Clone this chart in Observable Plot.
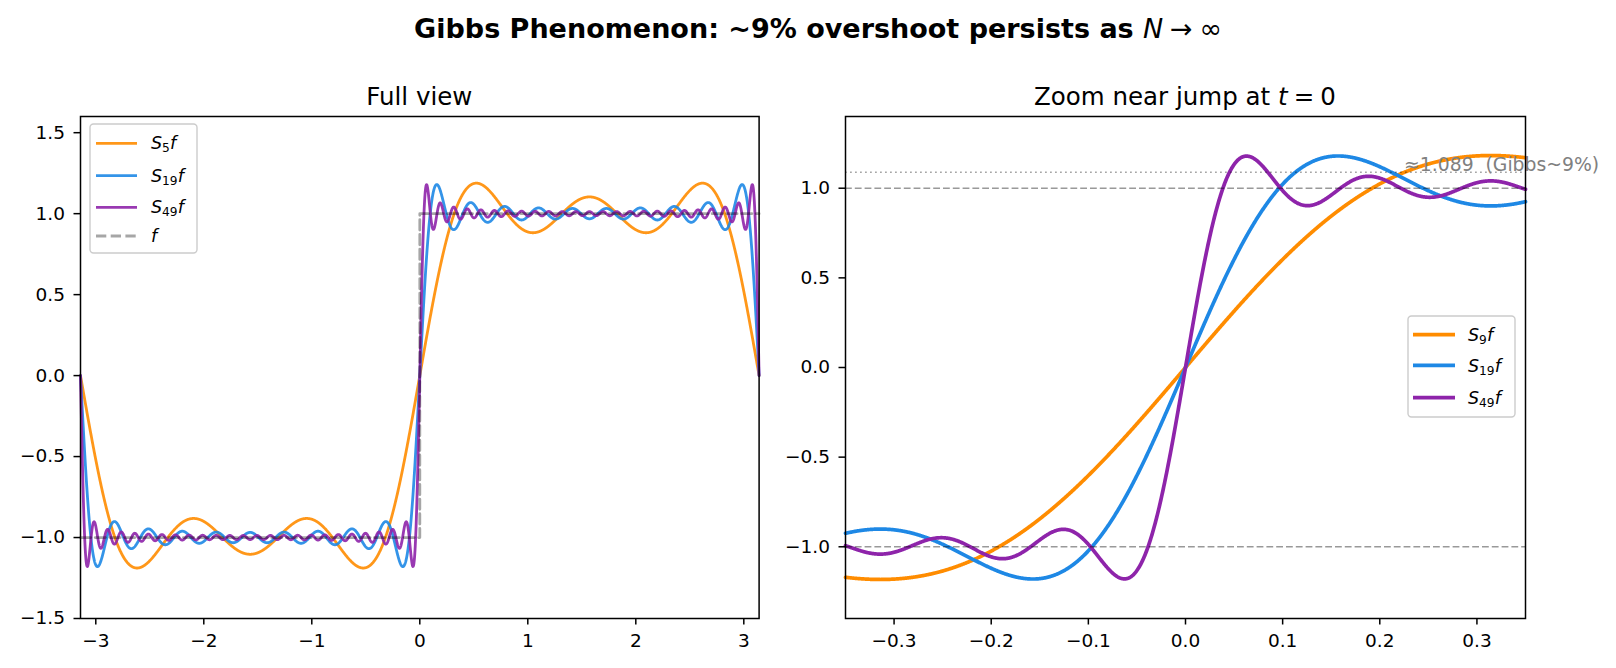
<!DOCTYPE html>
<html><head><meta charset="utf-8">
<script src="https://cdn.jsdelivr.net/npm/d3@7"></script>
<script src="https://cdn.jsdelivr.net/npm/@observablehq/plot@0.6"></script>
<style>
body{margin:0;background:#fff;}
#wrap{position:relative;width:1616px;height:668px;overflow:hidden;font-family:"DejaVu Sans",sans-serif;background:#fff;}
#wrap svg{position:absolute;top:0;}
</style></head><body><div id="wrap"></div>
<script>
// ---- data ----
const leftOrders = [5, 19, 49];          // harmonics in the full view
const rightOrders = [9, 19, 49];         // harmonics in the zoom
const seriesColors = ["#FF8C00", "#1E88E5", "#8E24AA"];
const leftXTicks = [-3, -2, -1, 0, 1, 2, 3];
const leftYTicks = [-1.5, -1, -0.5, 0, 0.5, 1, 1.5];
const rightXTicks = [-0.3, -0.2, -0.1, 0, 0.1, 0.2, 0.3];
const rightYTicks = [-1, -0.5, 0, 0.5, 1];
const stepT = [-Math.PI, 0, 0, Math.PI];  // square wave f
const stepV = [-1, -1, 1, 1];
const refLevels = [-1, 1];
const gibbsLevel = 1.089;
const gibbsLabel = "≈1.089\u00a0\u00a0(Gibbs~9%)";
const annotX = 0.225;

// Fourier partial sum of the square wave
function partialSum(N, t) {
  let s = 0;
  for (let k = 1; k <= N; k += 2) s += Math.sin(k * t) / k;
  return 4 / Math.PI * s;
}
const leftGrid = d3.range(0, 3001).map(i => -Math.PI + 2 * Math.PI * i / 3000);
const rightGrid = d3.range(0, 1401).map(i => -0.35 + 0.7 * i / 1400);
const stepData = stepT.map((t, i) => ({t, v: stepV[i]}));

const baseStyle = {fontFamily: "DejaVu Sans", fontSize: "18.5px", color: "black", background: "transparent", overflow: "visible"};
const axisOpts = {tickSize: 6.5, tickPadding: 9, label: null, strokeWidth: 1.5, fontSize: 18.5};

const wrap = document.getElementById("wrap");

// ---- left panel ----
const leftPlot = Plot.plot({
  width: 770, height: 668,
  marginLeft: 80, marginRight: 11.4, marginTop: 116, marginBottom: 50,
  x: {domain: [-Math.PI, Math.PI]},
  y: {domain: [-1.5, 1.6]},
  style: baseStyle,
  marks: [
    ...leftOrders.map((N, i) => Plot.line(leftGrid.map(t => ({t, v: partialSum(N, t)})),
      {x: "t", y: "v", stroke: seriesColors[i], strokeOpacity: 0.9, strokeWidth: 2.8})),
    Plot.line(stepData, {x: "t", y: "v", stroke: "black", strokeOpacity: 0.35, strokeWidth: 2.8, strokeDasharray: "10.3,4.4"}),
    Plot.axisX({...axisOpts, ticks: leftXTicks, tickFormat: d3.format("d")}),
    Plot.axisY({...axisOpts, ticks: leftYTicks, tickFormat: d3.format(".1f")}),
    Plot.frame({stroke: "black", strokeWidth: 1.5})
  ]
});
leftPlot.style.left = "0px";
wrap.appendChild(leftPlot);

// ---- right panel ----
const rightPlot = Plot.plot({
  width: 846, height: 668,
  marginLeft: 75, marginRight: 91, marginTop: 116, marginBottom: 50,
  x: {domain: [-0.35, 0.35]},
  y: {domain: [-1.4, 1.4]},
  style: baseStyle,
  marks: [
    ...rightOrders.map((N, i) => Plot.line(rightGrid.map(t => ({t, v: partialSum(N, t)})),
      {x: "t", y: "v", stroke: seriesColors[i], strokeWidth: 3.7})),
    Plot.ruleY(refLevels, {stroke: "black", strokeOpacity: 0.4, strokeWidth: 1.4, strokeDasharray: "6.8,3"}),
    Plot.ruleY([gibbsLevel], {stroke: "black", strokeOpacity: 0.35, strokeWidth: 1.4, strokeDasharray: "1.8,3.2"}),
    Plot.text([gibbsLevel], {x: () => annotX, y: d => d, text: () => gibbsLabel, textAnchor: "start", lineAnchor: "bottom", dy: -1.5, fill: "gray", fontSize: 18.8}),
    Plot.axisX({...axisOpts, ticks: rightXTicks, tickFormat: d3.format(".1f")}),
    Plot.axisY({...axisOpts, ticks: rightYTicks, tickFormat: d3.format(".1f")}),
    Plot.frame({stroke: "black", strokeWidth: 1.5})
  ]
});
rightPlot.style.left = "770px";
wrap.appendChild(rightPlot);

// ---- overlay: titles and legends ----
const ov = d3.select(wrap).append("svg").attr("width", 1616).attr("height", 668)
  .style("left", "0px").style("font-family", "DejaVu Sans").style("pointer-events", "none");

const title = ov.append("text").attr("x", 818).attr("y", 38).attr("text-anchor", "middle")
  .attr("font-size", 27).attr("font-weight", "bold").attr("fill", "black");
title.append("tspan").text("Gibbs Phenomenon: ~9% overshoot persists as ");
title.append("tspan").attr("font-style", "italic").attr("font-weight", "normal").text("N");
title.append("tspan").attr("font-weight", "normal").text("\u2005→\u2005∞");

ov.append("text").attr("x", 419.3).attr("y", 104.5).attr("text-anchor", "middle").attr("font-size", 24.5).text("Full view");
const st2 = ov.append("text").attr("x", 1185).attr("y", 104.5).attr("text-anchor", "middle").attr("font-size", 24.5);
st2.append("tspan").text("Zoom near jump at ");
st2.append("tspan").attr("font-style", "italic").text("t");
st2.append("tspan").text("\u2005=\u20050");

function legendLabel(g, x, y, sub) {
  const t = g.append("text").attr("x", x).attr("y", y).attr("font-size", 17.5).attr("fill", "black");
  if (sub === null) { t.append("tspan").attr("font-style", "italic").text("f"); return; }
  t.append("tspan").attr("font-style", "italic").text("S");
  t.append("tspan").attr("font-size", 12.2).attr("dy", 3).text(String(sub));
  t.append("tspan").attr("font-style", "italic").attr("dy", -3).text("f");
}

// left legend
const lg = ov.append("g");
lg.append("rect").attr("x", 90).attr("y", 124).attr("width", 107).attr("height", 129).attr("rx", 3.5)
  .attr("fill", "white").attr("fill-opacity", 0.8).attr("stroke", "#cccccc").attr("stroke-width", 1.4);
const leftRows = [143.3, 175.7, 207.3, 236];
leftOrders.forEach((N, i) => {
  lg.append("line").attr("x1", 96).attr("x2", 137).attr("y1", leftRows[i]).attr("y2", leftRows[i])
    .attr("stroke", seriesColors[i]).attr("stroke-opacity", 0.9).attr("stroke-width", 2.8);
  legendLabel(lg, 151, leftRows[i] + 6, N);
});
lg.append("line").attr("x1", 96).attr("x2", 137).attr("y1", leftRows[3]).attr("y2", leftRows[3])
  .attr("stroke", "black").attr("stroke-opacity", 0.35).attr("stroke-width", 2.8).attr("stroke-dasharray", "10.3,4.4");
legendLabel(lg, 151, leftRows[3] + 6, null);

// right legend
const rg = ov.append("g");
rg.append("rect").attr("x", 1408).attr("y", 316).attr("width", 107).attr("height", 101).attr("rx", 3.5)
  .attr("fill", "white").attr("fill-opacity", 0.8).attr("stroke", "#cccccc").attr("stroke-width", 1.4);
const rightRows = [334.7, 365.3, 397.7];
rightOrders.forEach((N, i) => {
  rg.append("line").attr("x1", 1413).attr("x2", 1455).attr("y1", rightRows[i]).attr("y2", rightRows[i])
    .attr("stroke", seriesColors[i]).attr("stroke-width", 3.7);
  legendLabel(rg, 1468, rightRows[i] + 6.2, N);
});
</script></body></html>
